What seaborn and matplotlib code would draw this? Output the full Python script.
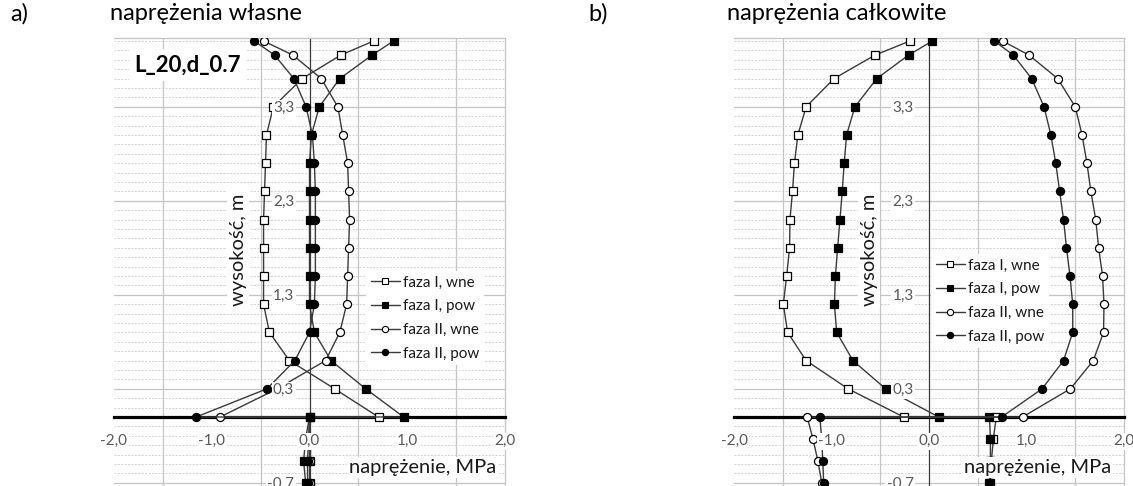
import numpy as np
import pandas as pd
import matplotlib
matplotlib.use("Agg")
import matplotlib.pyplot as plt
import seaborn as sns
from matplotlib.ticker import FixedLocator, MultipleLocator, FuncFormatter
from matplotlib.lines import Line2D

# ---------------- data ----------------
series_names = ["faza I, wne", "faza I, pow", "faza II, wne", "faza II, pow"]
heights_wall = [4.0, 3.85, 3.6, 3.3, 3.0, 2.7, 2.4, 2.1, 1.8, 1.5, 1.2, 0.9, 0.6, 0.3, 0.0]
heights_found = [0.0, -0.233, -0.467, -0.7]

# a) naprężenia własne
a_f1_wne = [0.655, 0.32, -0.075, -0.37, -0.44, -0.45, -0.46, -0.47, -0.47, -0.47, -0.47, -0.41, -0.205, 0.257, 0.706]
a_f1_pow = [0.86, 0.64, 0.31, 0.10, 0.02, 0.0, 0.0, 0.0, 0.0, 0.0, 0.0, 0.05, 0.22, 0.575, 0.963]
a_f2_wne = [-0.47, -0.17, 0.12, 0.29, 0.34, 0.39, 0.40, 0.41, 0.40, 0.39, 0.38, 0.31, 0.165, -0.33, -0.915]
a_f2_pow = [-0.565, -0.357, -0.16, -0.035, 0.03, 0.05, 0.06, 0.06, 0.06, 0.06, 0.05, 0.0, -0.15, -0.435, -1.16]
a_f1_wne_fund = [0.0, 0.01, 0.01, 0.0]
a_f1_pow_fund = [0.0, -0.04, -0.06, -0.04]
a_f2_wne_fund = [0.0, 0.0, 0.0, 0.0]
a_f2_pow_fund = [0.0, -0.01, -0.02, -0.02]

# b) naprężenia całkowite
b_f1_wne = [-0.195, -0.554, -0.974, -1.26, -1.345, -1.38, -1.40, -1.426, -1.43, -1.46, -1.494, -1.45, -1.26, -0.83, -0.26]
b_f1_pow = [0.035, -0.21, -0.536, -0.76, -0.845, -0.87, -0.89, -0.913, -0.937, -0.96, -0.97, -0.947, -0.78, -0.445, 0.10]
b_f2_wne = [0.755, 1.026, 1.32, 1.50, 1.57, 1.62, 1.66, 1.71, 1.74, 1.78, 1.795, 1.79, 1.685, 1.45, 0.96]
b_f2_pow = [0.67, 0.865, 1.053, 1.18, 1.25, 1.30, 1.34, 1.38, 1.41, 1.446, 1.474, 1.474, 1.38, 1.16, 0.745]
b_f1_wne_fund = [0.69, 0.66, 0.64, 0.63]
b_f1_pow_fund = [0.62, 0.63, 0.63, 0.62]
b_f2_wne_fund = [-1.25, -1.19, -1.14, -1.10]
b_f2_pow_fund = [-1.12, -1.10, -1.09, -1.08]

y_ticks = [-0.7, 0.3, 1.3, 2.3, 3.3]
x_ticks = [-2.0, -1.0, 0.0, 1.0, 2.0]

panels = {
    "a": [(a_f1_wne, a_f1_wne_fund), (a_f1_pow, a_f1_pow_fund),
          (a_f2_wne, a_f2_wne_fund), (a_f2_pow, a_f2_pow_fund)],
    "b": [(b_f1_wne, b_f1_wne_fund), (b_f1_pow, b_f1_pow_fund),
          (b_f2_wne, b_f2_wne_fund), (b_f2_pow, b_f2_pow_fund)],
}

rows = []
for p, lst in panels.items():
    for name, (wall, fund) in zip(series_names, lst):
        for i, (v, h) in enumerate(zip(wall + fund, heights_wall + heights_found)):
            rows.append(dict(panel=p, series=name, order=i, value=v, height=h))
df = pd.DataFrame(rows)

# ---------------- style ----------------
sns.set_style("white")
plt.rcParams["font.family"] = ["Lato", "DejaVu Sans"]

LINE = "#3a3a3a"
GRID = "#c4c4c4"
TICKC = "#595959"
TXT = "#1a1a1a"
styles = {
    "faza I, wne": dict(marker="s", mfc="white"),
    "faza I, pow": dict(marker="s", mfc="black"),
    "faza II, wne": dict(marker="o", mfc="white"),
    "faza II, pow": dict(marker="o", mfc="black"),
}

W, H = 1133, 486
fig = plt.figure(figsize=(W / 100, H / 100), dpi=100)

YMIN, YMAX = -0.8, 4.03
PX_PER_Y = 94.0
Y0_PIX = 417.0


def make_axes(left_px, right_px):
    top_pix = Y0_PIX - YMAX * PX_PER_Y
    bot_pix = Y0_PIX - YMIN * PX_PER_Y
    return fig.add_axes([left_px / W, 1 - bot_pix / H,
                         (right_px - left_px) / W, (bot_pix - top_pix) / H])


def comma(v, pos):
    return f"{v:.1f}".replace(".", ",")


def yfrac(v):
    return (v - YMIN) / (YMAX - YMIN)


def setup(ax, p, ylab_x, xlab_x, leg_xy):
    d = df[df.panel == p]
    for name in series_names:
        s = d[d.series == name].sort_values("order")
        st = styles[name]
        sns.lineplot(data=s, x="value", y="height", sort=False, estimator=None,
                     ax=ax, color=LINE, lw=1.0, marker=st["marker"],
                     markersize=5.8, markerfacecolor=st["mfc"],
                     markeredgecolor="black", markeredgewidth=0.9,
                     zorder=3, legend=False)
    ax.set_xlim(-2, 2)
    ax.set_ylim(YMIN, YMAX)
    ax.xaxis.set_major_locator(FixedLocator(x_ticks))
    ax.xaxis.set_minor_locator(MultipleLocator(0.5))
    ax.yaxis.set_major_locator(FixedLocator(y_ticks))
    ax.yaxis.set_minor_locator(MultipleLocator(0.1))
    ax.xaxis.set_major_formatter(FuncFormatter(comma))
    ax.yaxis.set_major_formatter(FuncFormatter(comma))

    # gridlines drawn beneath the data; axis (labels) drawn above the data
    ax.grid(False)
    for yv in ax.yaxis.get_minorticklocs():
        ax.axhline(yv, color="#d2d2d2", lw=0.7, ls=(0, (2, 1.5)), zorder=0.5)
    for yv in ax.yaxis.get_majorticklocs():
        ax.axhline(yv, color=GRID, lw=0.9, zorder=0.6)
    for xv in ax.xaxis.get_minorticklocs():
        ax.axvline(xv, color=GRID, lw=0.9, zorder=0.6)
    ax.xaxis.set_zorder(4)
    ax.yaxis.set_zorder(4)

    ax.spines["left"].set_position(("data", 0))
    ax.spines["left"].set_color(LINE)
    ax.spines["left"].set_linewidth(0.9)
    ax.spines["bottom"].set_position(("data", 0))
    ax.spines["bottom"].set_color("black")
    ax.spines["bottom"].set_linewidth(2.3)
    for sp in ("top", "right"):
        ax.spines[sp].set_color(GRID)
        ax.spines[sp].set_linewidth(0.9)

    ax.tick_params(axis="x", which="major", direction="inout", length=9, width=1.8,
                   color="black", labelsize=11, labelcolor=TICKC, pad=8)
    ax.tick_params(axis="y", which="major", length=0, labelsize=11,
                   labelcolor=TICKC, pad=11)
    ax.tick_params(which="minor", length=0)
    for t in ax.xaxis.get_major_ticks() + ax.yaxis.get_major_ticks():
        t.label1.set_bbox(dict(facecolor="white", edgecolor="none", pad=1.0))

    ax.set_ylabel("wysokość, m", fontsize=14.5, color=TXT, va="center", ha="center",
                  bbox=dict(facecolor="white", edgecolor="none", pad=1.5))
    ax.yaxis.set_label_coords(ylab_x, yfrac(1.78))
    ax.set_xlabel("naprężenie, MPa", fontsize=14.5, color=TXT, va="center", ha="center",
                  bbox=dict(facecolor="white", edgecolor="none", pad=1.5))
    ax.xaxis.set_label_coords(xlab_x, yfrac(-0.54))

    handles = [Line2D([], [], color=LINE, lw=1.0, marker=styles[n]["marker"],
                      markersize=4.5, markerfacecolor=styles[n]["mfc"],
                      markeredgecolor="black", markeredgewidth=0.8) for n in series_names]
    leg = ax.legend(handles, series_names, loc="upper left", bbox_to_anchor=leg_xy,
                    frameon=True, fancybox=False, framealpha=1, facecolor="white",
                    edgecolor="none", fontsize=11, handlelength=1.9,
                    handletextpad=0.2, labelspacing=0.64, borderpad=0.3,
                    borderaxespad=0)
    for t in leg.get_texts():
        t.set_color(TXT)
    leg.set_zorder(5)


axA = make_axes(114, 505)
setup(axA, "a", (238 - 114) / 391, 0.79, ((366 - 114) / 391, yfrac(1.555)))
axA.text(-1.79, 3.745, "L_20,d_0.7", fontsize=16, fontweight="bold", color="black",
         ha="left", va="center", zorder=6,
         bbox=dict(facecolor="white", edgecolor="none", pad=4))

axB = make_axes(734, 1124)
setup(axB, "b", (869 - 734) / 390, 0.778, ((931 - 734) / 390, yfrac(1.735)))

TS = 17
fig.text(10 / W, 1 - 14 / H, "a)", fontsize=TS, va="center", ha="left", color="black")
fig.text(110 / W, 1 - 14 / H, "naprężenia własne", fontsize=TS, va="center", ha="left", color="black")
fig.text(588 / W, 1 - 14 / H, "b)", fontsize=TS, va="center", ha="left", color="black")
fig.text(727 / W, 1 - 14 / H, "naprężenia całkowite", fontsize=TS, va="center", ha="left", color="black")

fig.savefig("out.png", dpi=100)
